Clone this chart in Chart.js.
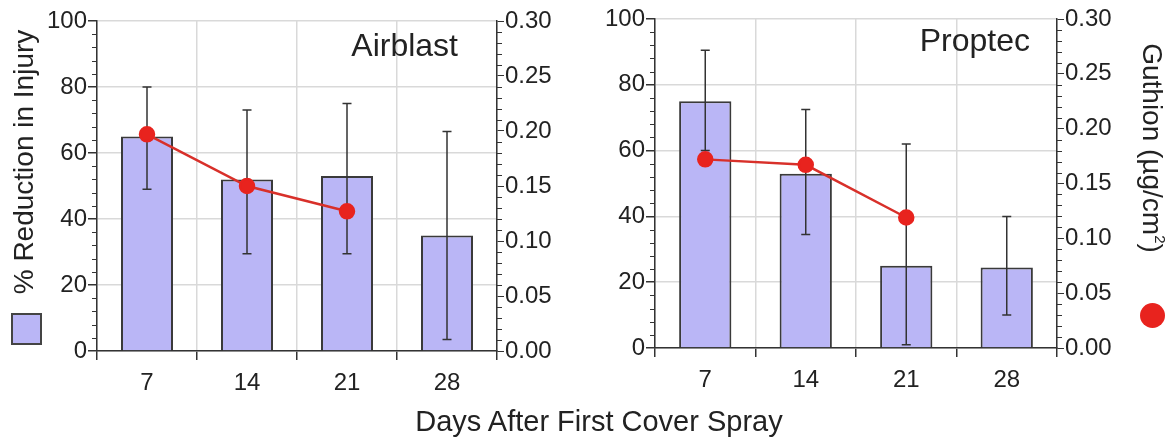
<!DOCTYPE html>
<html>
<head>
<meta charset="utf-8">
<script src="https://cdn.jsdelivr.net/npm/chart.js@4.4.1/dist/chart.umd.min.js"></script>
<style>
  body { margin: 0; background: #fff; font-family: 'Liberation Sans', Arial, sans-serif; color: #222; }
  #wrap { position: relative; width: 1169px; height: 444px; overflow: hidden; }
  canvas { position: absolute; top: 0; }
  .lbl { position: absolute; white-space: nowrap; line-height: 1; }
  .rot-l { transform: translate(-50%, -50%) rotate(-90deg); }
  .rot-r { transform: translate(-50%, -50%) rotate(90deg); }
  .swatch { position: absolute; box-sizing: border-box; }
</style>
</head>
<body>
<div id="wrap">
  <canvas id="airblast" width="560" height="444" style="left:0"></canvas>
  <canvas id="proptec" width="609" height="444" style="left:560px"></canvas>

  <div class="lbl rot-l" style="left:24px;top:162px;font-size:28px">% Reduction in Injury</div>
  <div class="lbl rot-r" style="left:1153px;top:148px;font-size:28px">Guthion (µg/cm<sup style="font-size:15px;vertical-align:12px">2</sup>)</div>
  <div class="lbl" style="right:711px;top:29px;font-size:32px">Airblast</div>
  <div class="lbl" style="right:139px;top:24px;font-size:32px">Proptec</div>
  <div class="lbl" style="left:599px;top:407px;font-size:29px;transform:translateX(-50%)">Days After First Cover Spray</div>

  <div class="swatch" style="left:11px;top:313px;width:31px;height:32px;background:#bab6f6;border:2px solid #444"></div>
  <div class="swatch" style="left:1140px;top:303px;width:25px;height:25px;border-radius:50%;background:#e8231e"></div>
</div>

<script>
// days after first cover spray
var days = ['7', '14', '21', '28']

// % reduction in injury (bars) with error bar ends
var airblastInjury = [65, 52, 53, 35]
var airblastLow = [49, 29.5, 29.5, 3.5]
var airblastHigh = [80, 73, 75, 66.5]
// guthion residue, ug/cm2 (red dots)
var airblastGuthion = [0.197, 0.150, 0.127, null]

var proptecInjury = [75, 53, 25, 24.5]
var proptecLow = [60, 34.5, 1, 10]
var proptecHigh = [90.5, 72.5, 62, 40]
var proptecGuthion = [0.172, 0.167, 0.119, null]

var leftTicks = [0, 20, 40, 60, 80, 100]
var rightTicks = [0, 0.05, 0.10, 0.15, 0.20, 0.25, 0.30]

var ink = '#222'
var axisColor = '#333'
var gridColor = '#d9d9d9'
var font = { family: "'Liberation Sans', Arial, sans-serif", size: 24 }

var errorBars = {
  id: 'errorBars',
  afterDatasetDraw: function (chart, args, opts) {
    if (args.index !== 0) return
    var y = chart.scales.y
    var ctx = chart.ctx
    ctx.save()
    ctx.strokeStyle = axisColor
    ctx.lineWidth = 1.5
    args.meta.data.forEach(function (bar, i) {
      var top = y.getPixelForValue(opts.high[i])
      var bot = y.getPixelForValue(opts.low[i])
      ctx.beginPath()
      ctx.moveTo(bar.x, top); ctx.lineTo(bar.x, bot)
      ctx.moveTo(bar.x - 4.5, top); ctx.lineTo(bar.x + 4.5, top)
      ctx.moveTo(bar.x - 4.5, bot); ctx.lineTo(bar.x + 4.5, bot)
      ctx.stroke()
    })
    ctx.restore()
  }
}

// small ticks between the labelled ones
var minorTicks = {
  id: 'minorTicks',
  afterDraw: function (chart) {
    var ctx = chart.ctx
    var y = chart.scales.y
    var y2 = chart.scales.y2
    ctx.save()
    ctx.strokeStyle = axisColor
    ctx.lineWidth = 1.2
    ctx.beginPath()
    for (var v = 0; v <= 100; v += 4) {
      if (v % 20 === 0) continue
      var py = Math.round(y.getPixelForValue(v)) + 0.5
      ctx.moveTo(y.right - 5, py); ctx.lineTo(y.right, py)
    }
    for (var k = 0; k <= 30; k++) {
      if (k % 5 === 0) continue
      var qy = Math.round(y2.getPixelForValue(k / 100)) + 0.5
      ctx.moveTo(y2.left, qy); ctx.lineTo(y2.left + 5, qy)
    }
    ctx.stroke()
    ctx.restore()
  }
}

function makeChart (id, injury, low, high, guthion, geo) {
  var canvas = document.getElementById(id)
  return new Chart(canvas, {
    type: 'bar',
    data: {
      labels: days,
      datasets: [
        {
          type: 'bar',
          data: injury,
          yAxisID: 'y',
          backgroundColor: '#bab6f6',
          borderColor: '#3a3a3a',
          borderWidth: 2,
          categoryPercentage: 1,
          barPercentage: 0.52,
          order: 1
        },
        {
          type: 'line',
          data: guthion,
          yAxisID: 'y2',
          borderColor: '#d8302a',
          borderWidth: 2.5,
          pointRadius: 7,
          pointBackgroundColor: '#e8231e',
          pointBorderColor: '#e8231e',
          spanGaps: false,
          order: 0
        }
      ]
    },
    options: {
      responsive: false,
      animation: false,
      events: [],
      layout: { padding: { top: geo.top, left: 0, right: 0, bottom: 0 } },
      plugins: {
        legend: { display: false },
        tooltip: { enabled: false },
        errorBars: { low: low, high: high }
      },
      scales: {
        x: {
          grid: { color: gridColor, lineWidth: 1.5, tickColor: axisColor, tickLength: 9, offset: true },
          border: { color: axisColor, width: 1.5 },
          ticks: { color: ink, font: font, padding: 9 },
          afterFit: function (s) { s.height = geo.xHeight }
        },
        y: {
          position: 'left',
          min: 0,
          max: 100,
          afterBuildTicks: function (s) { s.ticks = leftTicks.map(function (v) { return { value: v } }) },
          ticks: { color: ink, font: font, padding: 1 },
          grid: { color: gridColor, lineWidth: 1.5, tickColor: axisColor, tickLength: 9 },
          border: { color: axisColor, width: 1.5 },
          afterFit: function (s) { s.width = geo.left }
        },
        y2: {
          position: 'right',
          min: 0,
          max: 0.3,
          afterBuildTicks: function (s) { s.ticks = rightTicks.map(function (v) { return { value: v } }) },
          ticks: {
            color: ink,
            font: font,
            padding: 1,
            callback: function (v) { return v.toFixed(2) }
          },
          grid: { drawOnChartArea: false, tickColor: axisColor, tickLength: 7 },
          border: { color: axisColor, width: 1.5 },
          afterFit: function (s) { s.width = geo.right }
        }
      }
    },
    plugins: [errorBars, minorTicks]
  })
}

makeChart('airblast', airblastInjury, airblastLow, airblastHigh, airblastGuthion,
  { top: 21, left: 97, right: 63, xHeight: 93 })
makeChart('proptec', proptecInjury, proptecLow, proptecHigh, proptecGuthion,
  { top: 19, left: 95, right: 112, xHeight: 96 })
</script>
</body>
</html>
